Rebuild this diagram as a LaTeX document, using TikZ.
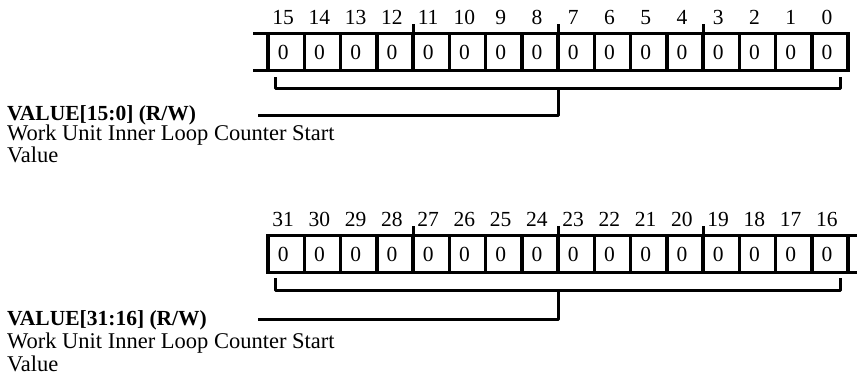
\documentclass[tikz,border=0pt]{standalone}
\usepackage{fontspec}
\setmainfont{Liberation Serif}
\begin{document}
\begin{tikzpicture}[x=1pt,y=-1pt,
  regline/.style={line width=3.5pt},
  tickline/.style={line width=3pt},
  cell/.style={draw, line width=3.5pt, minimum width=36.25pt, minimum height=37pt,
    inner sep=0pt, outer sep=0pt, font=\fontsize{21.5}{21.5}\selectfont},
  bitnum/.style={anchor=base, inner sep=0pt, font=\fontsize{21.5}{21.5}\selectfont},
  bracket/.style={line width=3pt, line join=round},
  fieldname/.style={anchor=base west, inner sep=0pt, font=\fontsize{21.5}{21.5}\selectfont\bfseries},
  fielddesc/.style={anchor=base west, inner sep=0pt, font=\fontsize{22.5}{22.5}\selectfont}]
\useasboundingbox (0,0) rectangle (857,381);
\foreach \k in {0,...,15} {
  \pgfmathtruncatemacro\b{15-\k}
  \pgfmathtruncatemacro\bb{31-\k}
  \node[cell] (c\b) at ({268+36.25*(\k+0.5)},52) {0\kern6pt};
  \node[bitnum] (n\b) at ({268+36.25*(\k+0.5)-3},24.5) {\b};
  \node[cell] (c\bb) at ({268+36.25*(\k+0.5)},254) {0\kern6pt};
  \node[bitnum] (n\bb) at ({268+36.25*(\k+0.5)-3},226.5) {\bb};
}
% register extensions
\coordinate (ea) at (253,33.5);
\coordinate (eb) at (253,70.5);
\draw[regline] (ea) -- (c15.north west);
\draw[regline] (eb) -- (c15.south west);
\coordinate (ec) at (857,235.5);
\coordinate (ed) at (857,272.5);
\draw[regline] (c16.north east) -- (ec);
\draw[regline] (c16.south east) -- (ed);
% nibble ticks
\foreach \b in {12,8,4,28,24,20} {
  \draw[tickline] (c\b.north east) -- ++(0,-10);
}
% top bracket
\coordinate (ta) at (275,77);
\coordinate (tb) at (275,88);
\coordinate (tc) at (840,88);
\coordinate (td) at (840,77);
\coordinate (ts) at (558,88);
\coordinate (tk) at (558,115);
\coordinate (tl) at (258,115);
\draw[bracket] (ta) -- (tb) -- (tc) -- (td);
\draw[bracket] (ts) -- (tk) -- (tl);
\node[fieldname] (f1) at (7,120) {VALUE[15:0] (R/W)};
\node[fielddesc] (d1a) at (7,140.5) {Work Unit Inner Loop Counter Start};
\node[fielddesc] (d1b) at (7,162) {Value};
% bottom bracket
\coordinate (ba) at (275,278);
\coordinate (bb) at (275,290);
\coordinate (bc) at (840,290);
\coordinate (bd) at (840,278);
\coordinate (bs) at (558,290);
\coordinate (bk) at (558,319);
\coordinate (bl) at (258,319);
\draw[bracket] (ba) -- (bb) -- (bc) -- (bd);
\draw[bracket] (bs) -- (bk) -- (bl);
\node[fieldname] (f2) at (7,325.5) {VALUE[31:16] (R/W)};
\node[fielddesc] (d2a) at (7,348) {Work Unit Inner Loop Counter Start};
\node[fielddesc] (d2b) at (7,371) {Value};
\end{tikzpicture}
\end{document}
